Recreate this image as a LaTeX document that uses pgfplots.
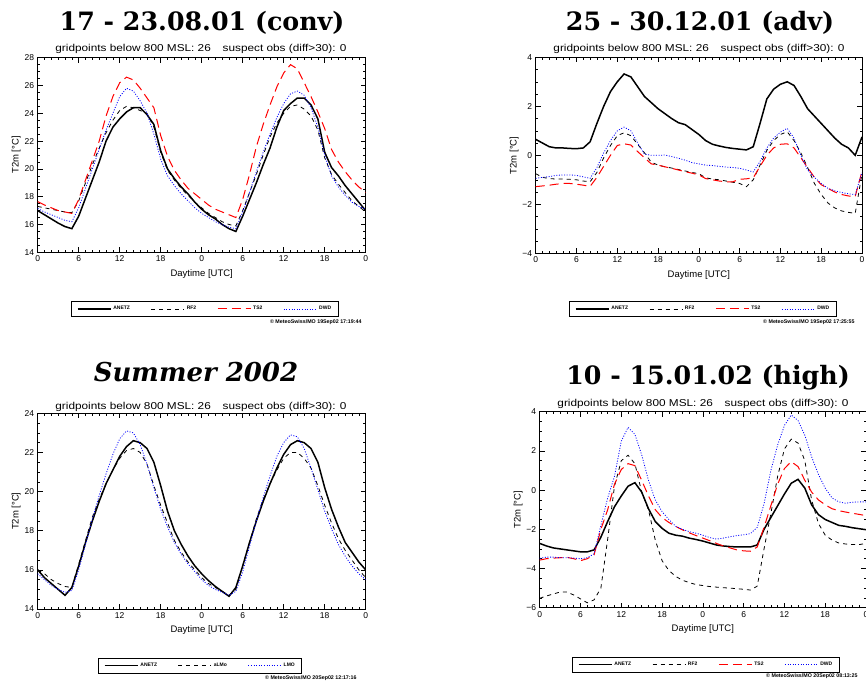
\documentclass[border=0pt]{standalone}
\usepackage{fontspec}
\setmainfont{Liberation Sans}
\newfontfamily\titlefont{DejaVu Serif}
\usepackage{pgfplots}
\usepackage{pgfplotstable}
\pgfplotsset{compat=1.18}

% hourly 2m temperature, two days
\pgfplotstableread{
h anetz rf2 ts2 dwd
0 17.0 17.3 17.65 17.15
1 16.7 17.2 17.4 16.9
2 16.4 17.1 17.2 16.7
3 16.1 17.0 17.0 16.5
4 15.85 16.9 16.9 16.3
5 15.7 16.85 16.8 16.2
6 16.6 17.7 17.8 17.2
7 17.9 19.0 19.2 18.6
8 19.2 20.3 20.6 20.0
9 20.5 21.5 22.0 21.4
10 22.0 22.6 23.8 22.8
11 23.0 23.5 25.2 24.0
12 23.6 24.2 26.2 25.2
13 24.1 24.5 26.6 25.8
14 24.4 24.4 26.4 25.6
15 24.4 24.2 25.8 24.9
16 23.9 24.0 25.1 24.0
17 23.2 23.0 24.4 22.5
18 21.3 21.2 22.4 20.7
19 20.0 19.9 20.9 19.5
20 19.3 19.2 19.9 18.8
21 18.7 18.6 19.2 18.2
22 18.2 18.1 18.6 17.7
23 17.6 17.6 18.2 17.2
24 17.1 17.2 17.8 16.8
25 16.7 16.8 17.4 16.5
26 16.4 16.5 17.1 16.2
27 16.0 16.2 16.9 16.0
28 15.7 16.0 16.7 15.8
29 15.5 15.9 16.5 15.7
30 16.6 17.0 17.8 16.9
31 17.8 18.3 19.6 18.3
32 19.0 19.6 21.6 19.8
33 20.3 21.0 23.2 21.2
34 21.5 22.3 24.6 22.5
35 23.0 23.3 25.9 23.7
36 24.2 24.0 26.9 24.7
37 24.7 24.5 27.5 25.4
38 25.1 24.6 27.2 25.6
39 25.1 24.3 26.2 25.3
40 24.6 23.8 25.2 24.4
41 23.6 22.8 24.1 23.0
42 21.2 20.8 22.9 21.0
43 20.1 19.6 21.4 19.5
44 19.5 18.9 20.5 18.7
45 18.8 18.3 19.8 18.1
46 18.2 17.7 19.2 17.6
47 17.6 17.3 18.7 17.3
48 17.0 16.9 18.3 17.1
}\conv

\pgfplotstableread{
h anetz rf2 ts2 dwd
0 0.65 -0.75 -1.28 -0.94
1 0.5 -0.9 -1.25 -0.9
2 0.35 -0.95 -1.22 -0.87
3 0.3 -0.97 -1.18 -0.82
4 0.3 -0.97 -1.15 -0.8
5 0.28 -0.98 -1.15 -0.8
6 0.27 -1.0 -1.18 -0.82
7 0.3 -1.05 -1.22 -0.88
8 0.55 -1.08 -1.27 -0.94
9 1.3 -0.7 -0.9 -0.5
10 2.0 -0.1 -0.45 0.1
11 2.6 0.4 0.0 0.6
12 3.0 0.8 0.4 1.0
13 3.32 0.92 0.47 1.15
14 3.2 0.8 0.42 1.0
15 2.8 0.45 0.15 0.5
16 2.4 0.1 -0.1 0.05
17 2.15 -0.28 -0.35 0.0
18 1.9 -0.4 -0.4 0.0
19 1.7 -0.47 -0.47 0.01
20 1.5 -0.52 -0.53 -0.05
21 1.33 -0.58 -0.6 -0.12
22 1.25 -0.64 -0.67 -0.2
23 1.05 -0.7 -0.73 -0.3
24 0.85 -0.75 -0.8 -0.35
25 0.6 -0.92 -0.95 -0.4
26 0.45 -0.97 -1.0 -0.42
27 0.38 -1.0 -1.05 -0.45
28 0.32 -1.05 -1.08 -0.48
29 0.28 -1.1 -1.08 -0.5
30 0.25 -1.15 -0.98 -0.53
31 0.22 -1.28 -0.96 -0.6
32 0.35 -1.0 -0.92 -0.68
33 1.3 -0.4 -0.45 -0.25
34 2.3 0.2 0.0 0.3
35 2.7 0.6 0.3 0.7
36 2.9 0.85 0.45 0.95
37 3.0 0.96 0.47 1.1
38 2.85 0.6 0.3 0.7
39 2.4 0.1 -0.1 0.0
40 1.9 -0.5 -0.5 -0.6
41 1.6 -1.15 -0.9 -0.9
42 1.3 -1.6 -1.2 -1.15
43 1.0 -1.95 -1.35 -1.35
44 0.7 -2.15 -1.5 -1.45
45 0.45 -2.27 -1.6 -1.52
46 0.3 -2.33 -1.66 -1.57
47 0.0 -2.37 -1.68 -1.6
48 0.75 -0.75 -0.65 -0.7
}\adv

\pgfplotstableread{
h anetz almo lmo
0 16.0 16.0 15.8
1 15.6 15.8 15.5
2 15.3 15.5 15.2
3 15.0 15.3 15.0
4 14.7 15.15 14.85
5 15.1 15.1 14.95
6 16.2 16.3 16.0
7 17.4 17.5 17.3
8 18.5 18.7 18.6
9 19.5 19.6 19.8
10 20.4 20.4 20.9
11 21.1 21.1 21.9
12 21.8 21.7 22.7
13 22.3 22.1 23.1
14 22.6 22.2 23.0
15 22.5 22.0 22.4
16 22.2 21.4 21.4
17 21.5 20.3 20.2
18 20.3 19.3 19.1
19 19.0 18.4 18.2
20 18.0 17.5 17.4
21 17.3 16.9 16.8
22 16.7 16.4 16.3
23 16.2 16.0 15.9
24 15.8 15.6 15.5
25 15.45 15.3 15.2
26 15.15 15.1 15.0
27 14.9 14.9 14.85
28 14.65 14.7 14.7
29 15.1 15.0 14.9
30 16.2 16.2 15.9
31 17.4 17.4 17.2
32 18.5 18.6 18.5
33 19.5 19.6 19.7
34 20.4 20.4 20.8
35 21.2 21.1 21.8
36 21.9 21.7 22.5
37 22.4 22.0 22.9
38 22.6 22.0 22.8
39 22.5 21.7 22.2
40 22.2 21.2 21.2
41 21.5 20.3 20.1
42 20.2 19.3 19.0
43 19.1 18.4 18.1
44 18.2 17.6 17.3
45 17.4 17.0 16.7
46 16.9 16.5 16.2
47 16.4 16.0 15.8
48 16.0 15.6 15.5
}\summer

\pgfplotstableread{
h anetz rf2 ts2 dwd
0 -2.72 -5.52 -3.57 -3.48
1 -2.85 -5.4 -3.5 -3.42
2 -2.95 -5.3 -3.47 -3.42
3 -3.0 -5.2 -3.45 -3.45
4 -3.05 -5.2 -3.43 -3.45
5 -3.1 -5.35 -3.5 -3.47
6 -3.15 -5.55 -3.6 -3.5
7 -3.15 -5.75 -3.5 -3.45
8 -3.05 -5.6 -3.3 -3.25
9 -2.4 -5.0 -2.0 -1.8
10 -1.6 -2.5 -1.0 -0.4
11 -0.85 0.2 0.3 0.7
12 -0.3 1.5 1.05 2.5
13 0.2 1.78 1.35 3.2
14 0.38 1.35 1.25 2.85
15 -0.1 -0.1 0.5 1.8
16 -0.95 -1.0 -0.3 0.5
17 -1.6 -2.55 -1.0 -0.5
18 -1.95 -3.6 -1.4 -1.1
19 -2.2 -4.1 -1.65 -1.5
20 -2.3 -4.4 -1.85 -1.85
21 -2.35 -4.6 -2.03 -2.0
22 -2.45 -4.72 -2.18 -2.12
23 -2.52 -4.82 -2.32 -2.2
24 -2.6 -4.87 -2.45 -2.3
25 -2.7 -4.92 -2.58 -2.42
26 -2.8 -4.95 -2.72 -2.5
27 -2.85 -4.98 -2.85 -2.45
28 -2.88 -5.0 -2.95 -2.38
29 -2.9 -5.03 -3.05 -2.32
30 -2.9 -5.06 -3.1 -2.28
31 -2.9 -5.1 -3.12 -2.22
32 -2.8 -4.9 -2.9 -1.9
33 -2.0 -3.0 -1.9 -0.7
34 -1.4 -1.2 -0.8 1.0
35 -0.8 0.7 0.3 2.3
36 -0.2 2.1 1.1 3.3
37 0.35 2.6 1.45 3.83
38 0.55 2.4 1.2 3.55
39 0.1 1.5 0.5 2.8
40 -0.75 -0.5 -0.1 1.7
41 -1.25 -1.7 -0.5 0.8
42 -1.5 -2.3 -0.75 0.1
43 -1.65 -2.55 -0.95 -0.4
44 -1.8 -2.7 -1.05 -0.6
45 -1.85 -2.75 -1.12 -0.67
46 -1.92 -2.78 -1.18 -0.62
47 -1.97 -2.78 -1.24 -0.6
48 -2.02 -2.72 -1.3 -0.6
}\high

\pgfplotsset{
  idl/.style={
    scale only axis,
    xmin=0, xmax=48,
    xtick={0,6,...,48},
    xticklabels={0,6,12,18,0,6,12,18,0},
    minor x tick num=5,
    minor y tick num=3,
    tick align=inside,
    axis line style={line width=1pt},
    major tick length=5pt,
    minor tick length=2.5pt,
    every tick/.style={black, line width=0.6pt},
    tick label style={font=\fontsize{8.5}{10}\selectfont},
    label style={font=\fontsize{9.5}{11}\selectfont},
    xlabel={Daytime [UTC]},
    ylabel={T2m [°C]},
    xlabel style={at={(axis description cs:0.5,-0.11)}, anchor=center},
    ylabel style={at={(axis description cs:-0.066,0.5)}, anchor=center},
    legend columns=4,
    legend image code/.code={\draw[##1] (0pt,0pt) -- (33pt,0pt);},
    legend style={draw=black, line width=1pt, anchor=north,
      font=\bfseries\fontsize{5}{6}\selectfont,
      inner xsep=5pt, inner ysep=3pt,
      /tikz/every even column/.append style={column sep=19pt}},
  },
  anetz/.style={black, line width=1.5pt},
  rf2/.style={black, line width=0.8pt, dash pattern=on 4pt off 4pt},
  ts2/.style={red, line width=1pt, dash pattern=on 9pt off 5pt},
  dwd/.style={blue, line width=0.8pt, dash pattern=on 1pt off 1.6pt},
}

\newcommand{\subline}{\scalebox{1.18}[1]{\fontsize{10}{12}\selectfont gridpoints below 800 MSL: 26\hspace{10pt}suspect obs (diff>30): 0}}

\begin{document}
\begin{tikzpicture}
\useasboundingbox (0pt,0pt) rectangle (866pt,681pt);

\begin{axis}[idl, at={(37.7pt,428.7pt)}, anchor=south west,
  width=328pt, height=194.6pt,
  ymin=14, ymax=28, ytick={14,16,...,28},
  yticklabels={14,16,18,20,22,24,26,28},
  legend style={at={(0.51,-0.25)}}]
\addplot[anetz] table[x=h, y=anetz] {\conv};
\addplot[rf2] table[x=h, y=rf2] {\conv};
\addplot[ts2] table[x=h, y=ts2] {\conv};
\addplot[dwd] table[x=h, y=dwd] {\conv};
\legend{ANETZ, RF2, TS2, DWD}
\end{axis}

\begin{axis}[idl, at={(535.7pt,427.7pt)}, anchor=south west,
  width=326.3pt, height=196pt,
  ymin=-4, ymax=4, ytick={-4,-2,0,2,4},
  yticklabels={−4,−2,0,2,4},
  legend style={at={(0.513,-0.243)}}]
\addplot[anetz] table[x=h, y=anetz] {\adv};
\addplot[rf2] table[x=h, y=rf2] {\adv};
\addplot[ts2] table[x=h, y=ts2] {\adv};
\addplot[dwd] table[x=h, y=dwd] {\adv};
\legend{ANETZ, RF2, TS2, DWD}
\end{axis}

\begin{axis}[idl, at={(37.7pt,72pt)}, anchor=south west,
  width=328pt, height=195.7pt,
  ymin=14, ymax=24, ytick={14,16,...,24},
  yticklabels={14,16,18,20,22,24},
  legend style={at={(0.496,-0.249)}}]
\addplot[anetz] table[x=h, y=anetz] {\summer};
\addplot[rf2] table[x=h, y=almo] {\summer};
\addplot[dwd] table[x=h, y=lmo] {\summer};
\legend{ANETZ, aLMo, LMO}
\end{axis}

\begin{axis}[idl, at={(539.7pt,73.3pt)}, anchor=south west,
  width=326.3pt, height=196pt,
  ymin=-6, ymax=4, ytick={-6,-4,...,4},
  yticklabels={−6,−4,−2,0,2,4},
  legend style={at={(0.51,-0.25)}}]
\addplot[anetz] table[x=h, y=anetz] {\high};
\addplot[rf2] table[x=h, y=rf2] {\high};
\addplot[ts2] table[x=h, y=ts2] {\high};
\addplot[dwd] table[x=h, y=dwd] {\high};
\legend{ANETZ, RF2, TS2, DWD}
\end{axis}

% titles
\begin{scope}[every node/.style={anchor=base}]
\node[font=\titlefont\bfseries\fontsize{25.3}{30}\selectfont] at (202pt,650.3pt) {17 - 23.08.01 (conv)};
\node[font=\titlefont\bfseries\fontsize{25.3}{30}\selectfont] at (700pt,650.3pt) {25 - 30.12.01 (adv)};
\node[font=\titlefont\bfseries\itshape\fontsize{26}{30}\selectfont] at (196pt,299.3pt) {Summer 2002};
\node[font=\titlefont\bfseries\fontsize{25.3}{30}\selectfont] at (708pt,296.7pt) {10 - 15.01.02 (high)};
\end{scope}

\begin{scope}[every node/.style={anchor=base, inner sep=0pt}]
\node at (201pt,629.3pt) {\subline};
\node at (699pt,629.3pt) {\subline};
\node at (201pt,271.7pt) {\subline};
\node at (703pt,275pt) {\subline};
\end{scope}

% stamps
\begin{scope}[every node/.style={inner sep=0pt, font=\bfseries\fontsize{5.3}{6}\selectfont}]
\node[anchor=base east] at (361.7pt,357.5pt) {© MeteoSwiss/MO 19Sep02 17:19:44};
\node[anchor=base west] at (763pt,357.5pt) {© MeteoSwiss/MO 19Sep02 17:25:55};
\node[anchor=base west] at (265pt,1.5pt) {© MeteoSwiss/MO 20Sep02 12:17:16};
\node[anchor=base west] at (766pt,4pt) {© MeteoSwiss/MO 20Sep02 08:13:25};
\end{scope}
\end{tikzpicture}
\end{document}
